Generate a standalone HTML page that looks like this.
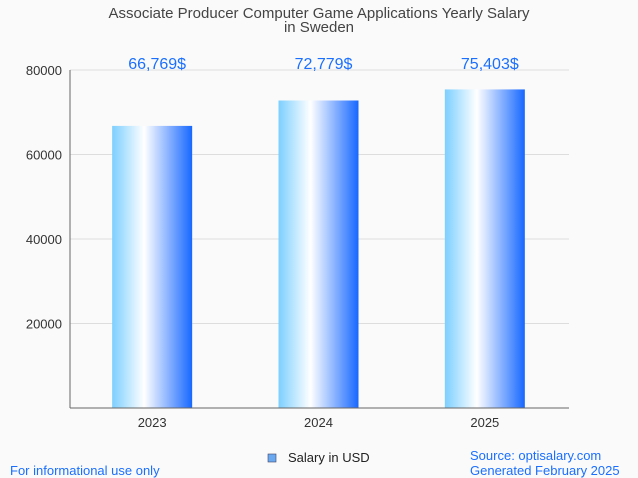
<!DOCTYPE html>
<html><head><meta charset="utf-8"><style>
body{margin:0;background:#fafafa;font-family:"Liberation Sans",sans-serif;}
svg{display:block}
</style></head><body>
<svg id="c" width="638" height="478" xmlns="http://www.w3.org/2000/svg">
<defs><linearGradient id="g" x1="0" x2="1" y1="0" y2="0">
<stop offset="0" stop-color="#7ccfff"/><stop offset="0.4" stop-color="#ffffff"/><stop offset="1" stop-color="#1768ff"/></linearGradient></defs>
<rect width="638" height="478" fill="#fafafa"/>
<text x="319" y="18" text-anchor="middle" font-size="15" fill="#444">Associate Producer Computer Game Applications Yearly Salary</text>
<text x="319" y="32" text-anchor="middle" font-size="15" fill="#444">in Sweden</text>
<g id="grid"></g><g id="bars"></g>
<line x1="70" y1="70" x2="70" y2="408" stroke="#666"/>
<line x1="70" y1="408" x2="569" y2="408" stroke="#666"/>
<rect x="268" y="454" width="8" height="8" fill="#6aa8f0" stroke="#446" stroke-width="0.6"/>
<text x="288" y="462" font-size="13" fill="#222">Salary in USD</text>
<text x="10" y="475" font-size="13" fill="#1a6fff">For informational use only</text>
<text x="470" y="460" font-size="13" fill="#1a6fff">Source: optisalary.com</text>
<text x="470" y="475" font-size="13" fill="#1a6fff">Generated February 2025</text>
</svg>
<script>
const categories=["2023","2024","2025"];
const values=[66769,72779,75403];
const labels=["66,769$","72,779$","75,403$"];
const yTicks=[20000,40000,60000,80000];
const NS="http://www.w3.org/2000/svg";
const x0=70,x1=569,y0=408,yTop=70,yMax=80000;
const y=v=>y0-(v/yMax)*(y0-yTop);
const bw=(x1-x0)/categories.length;
const xc=i=>x0+bw*(i+0.5)-1;
function mk(t,a,p){const e=document.createElementNS(NS,t);for(const k in a)e.setAttribute(k,a[k]);p.appendChild(e);return e;}
const grid=document.getElementById('grid'),bars=document.getElementById('bars');
yTicks.forEach(t=>{
 const l=mk('line',{x1:x0,x2:x1,y1:y(t),y2:y(t),stroke:'#ddd'},grid);
 
 
 const tx=mk('text',{x:x0-8,y:y(t)+5,'text-anchor':'end','font-size':13,fill:'#333'},grid);
 tx.textContent=t;
 
 
});
categories.forEach((c,i)=>{
 const r=mk('rect',{x:xc(i)-40,y:y(values[i]),width:80,height:y0-y(values[i]),fill:'url(#g)'},bars);
 
 
 const lb=mk('text',{x:xc(i)+5,y:69,'text-anchor':'middle','font-size':16,fill:'#1a6fff'},bars);
 lb.textContent=labels[i];
 
 
 const xl=mk('text',{x:xc(i),y:427,'text-anchor':'middle','font-size':13,fill:'#333'},bars);
 xl.textContent=c;
 
 
});
</script>
</body></html>
